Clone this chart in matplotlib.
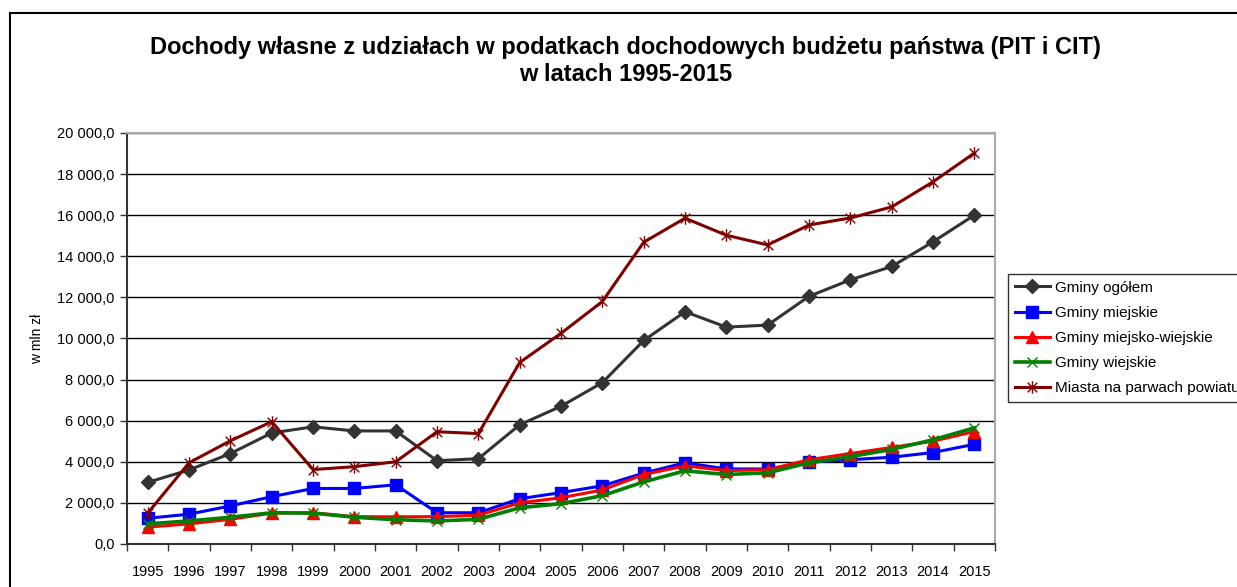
# Dochody własne gmin z udziałów w PIT i CIT, 1995-2015
import matplotlib.pyplot as plt
from matplotlib.lines import Line2D
from matplotlib.path import Path
from matplotlib.ticker import FixedLocator, FuncFormatter

plt.rcParams['font.family'] = ['Liberation Sans', 'DejaVu Sans']

# Data (w mln zł)
years = [str(y) for y in range(1995, 2016)]
gminy_ogolem = [3000, 3600, 4400, 5400, 5700, 5500, 5500, 4050, 4150, 5800, 6700,
                7850, 9900, 11300, 10550, 10650, 12050, 12850, 13500, 14700, 16000]
gminy_miejskie = [1250, 1450, 1850, 2300, 2700, 2700, 2880, 1520, 1520, 2200, 2500,
                  2830, 3450, 3950, 3650, 3650, 3980, 4100, 4220, 4450, 4850]
gminy_miejsko_wiejskie = [820, 980, 1200, 1500, 1520, 1330, 1320, 1330, 1400, 2000, 2250,
                          2630, 3380, 3800, 3570, 3610, 4100, 4400, 4700, 5000, 5470]
gminy_wiejskie = [980, 1120, 1300, 1520, 1500, 1300, 1180, 1120, 1200, 1760, 1960,
                  2350, 3020, 3560, 3380, 3460, 3950, 4250, 4600, 5070, 5650]
miasta_npp = [1500, 3950, 5020, 5950, 3620, 3760, 4000, 5460, 5370, 8830, 10250,
              11800, 14680, 15850, 15020, 14550, 15520, 15860, 16400, 17620, 19020]
y_ticks = list(range(0, 20001, 2000))

x = list(range(len(years)))

# Excel-style star marker: an "x" crossed by a vertical bar
star = Path([(-1, -1), (1, 1), (-1, 1), (1, -1), (0, -1.3), (0, 1.3)],
            [Path.MOVETO, Path.LINETO] * 3)

fig = plt.figure(figsize=(12.37, 5.87), dpi=100)
ax = fig.add_axes([0.1027, 0.0733, 0.7017, 0.7003])

ax.plot(x, gminy_ogolem, color='#333333', lw=2.2, marker='D', ms=7, label='Gminy ogółem')
ax.plot(x, gminy_miejskie, color='#0000ff', lw=2.2, marker='s', ms=8.5, label='Gminy miejskie')
ax.plot(x, gminy_miejsko_wiejskie, color='#ff0000', lw=2.2, marker='^', ms=9,
        label='Gminy miejsko-wiejskie')
ax.plot(x, gminy_wiejskie, color='#008000', lw=2.6, marker='x', ms=7, mew=1,
        label='Gminy wiejskie')
ax.plot(x, miasta_npp, color='#800000', lw=2.2, marker=star, ms=9, mew=1,
        label='Miasta na parwach powiatu')

ax.set_xlim(-0.5, len(years) - 0.5)
ax.set_ylim(0, 20000)
ax.set_xticks(x)
ax.set_xticklabels(years, fontsize=10.5)
ax.xaxis.set_minor_locator(FixedLocator([i - 0.5 for i in range(len(years) + 1)]))
ax.tick_params(axis='x', which='major', length=0, pad=15)
ax.tick_params(axis='x', which='minor', length=5, width=1, color='#333333')

ax.set_yticks(y_ticks)
ax.yaxis.set_major_formatter(FuncFormatter(lambda v, p: f"{v:,.1f}".replace(',', ' ').replace('.', ',')))
ax.tick_params(axis='y', length=5, width=1, color='#333333', labelsize=10.5, pad=4)
ax.grid(axis='y', color='black', lw=1)
ax.set_axisbelow(True)

for s in ['left', 'bottom']:
    ax.spines[s].set_color('#333333')
    ax.spines[s].set_linewidth(1.5)
for s in ['top', 'right']:
    ax.spines[s].set_color('#aaaaaa')
    ax.spines[s].set_linewidth(1.5)

ax.set_ylabel('w mln zł', fontsize=10)
ax.yaxis.set_label_coords(-0.096, 0.5)

fig.text(0.506, 0.896, 'Dochody własne z udziałach w podatkach dochodowych budżetu państwa (PIT i CIT)\nw latach 1995-2015',
         ha='center', va='center', fontsize=17, fontweight='bold', linespacing=1.2)

leg = ax.legend(loc='center left', fontsize=11, frameon=True, fancybox=False, edgecolor='black',
                handlelength=2.3, handletextpad=0.3, borderpad=0.45, labelspacing=0.73,
                borderaxespad=0)
leg.set_bbox_to_anchor((1008 / 1237, 1 - 338 / 587), transform=fig.transFigure)
leg.get_frame().set_linewidth(1)

# outer chart frame (extends beyond the cropped picture)
fig.add_artist(Line2D([10 / 1237, 10 / 1237], [0, 1 - 13 / 587], transform=fig.transFigure,
                      color='black', lw=1.5))
fig.add_artist(Line2D([10 / 1237, 1], [1 - 13 / 587, 1 - 13 / 587], transform=fig.transFigure,
                      color='black', lw=1.5))

plt.savefig('out.png', dpi=100)
